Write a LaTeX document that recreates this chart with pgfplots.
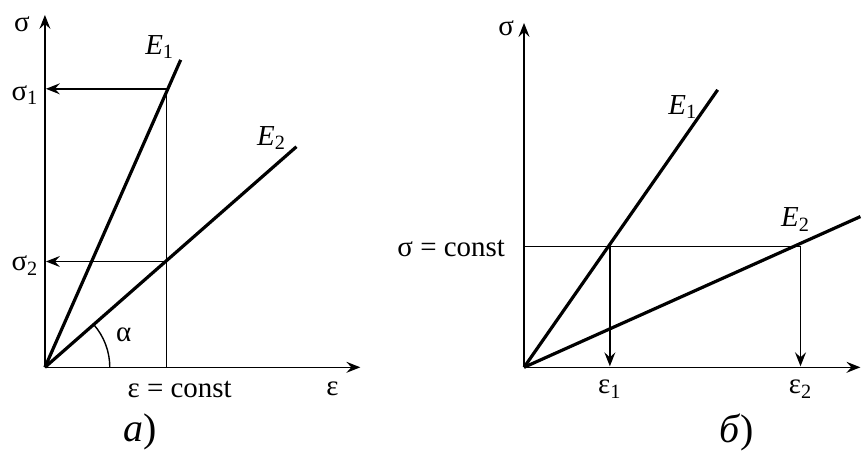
\documentclass[border=0pt]{standalone}
\usepackage{pgfplots}
\pgfplotsset{compat=1.18}
\usepackage{fontspec}
\setmainfont{Liberation Serif}
\usetikzlibrary{arrows.meta}
\tikzset{
  thin line/.style={black, line width=0.7pt},
  arr/.style={thin line, -{Stealth[length=7pt,width=5.5pt,inset=2.5pt]}},
  main/.style={black, line width=1.6pt},
}
\begin{document}
\begin{tikzpicture}[font=\fontsize{14.5}{16}\selectfont]
  \begin{axis}[
      x=0.5pt, y=0.5pt,
      xmin=0, xmax=862, ymin=0, ymax=457,
      hide axis, clip=false,
    ]
    % frame for the bounding box
    \path (axis cs:0,0) rectangle (axis cs:862,457);

    % ---------- panel a) ----------
    \addplot[arr] coordinates {(45,89) (45,442)};
    \addplot[arr] coordinates {(45,89) (361,89)};
    \addplot[main] coordinates {(45,89) (181,397)};   % E1
    \addplot[main] coordinates {(45,89) (297,310)};   % E2
    \addplot[thin line] coordinates {(167,89) (167,368)};
    \addplot[arr] coordinates {(167,368) (46,368)};
    \addplot[arr] coordinates {(167,195) (46,195)};
    \draw[thin line] (axis cs:110,89) arc[start angle=0, end angle=41, radius=32.5pt];

    \node at (axis cs:22,433) {σ};
    \node at (axis cs:25,362) {σ\textsubscript{1}};
    \node at (axis cs:25,191) {σ\textsubscript{2}};
    \node at (axis cs:160,410) {\textit{E}\textsubscript{1}};
    \node at (axis cs:272,319) {\textit{E}\textsubscript{2}};
    \node at (axis cs:124,122) {α};
    \node at (axis cs:180,67) {ε = const};
    \node at (axis cs:333,67) {ε};
    \node[font=\fontsize{20}{22}\selectfont] at (axis cs:140,24) {\textit{а})};

    % ---------- panel b) ----------
    \addplot[arr] coordinates {(525,89) (525,434)};
    \addplot[arr] coordinates {(525,89) (862,89)};
    \addplot[main] coordinates {(525,89) (719,367)};  % E1
    \addplot[main] coordinates {(525,89) (862,240)};  % E2
    \addplot[thin line] coordinates {(525,210) (802,210)};
    \addplot[arr] coordinates {(611,210) (611,90)};
    \addplot[arr] coordinates {(802,210) (802,90)};

    \node at (axis cs:507,429) {σ};
    \node at (axis cs:452,208) {σ = const};
    \node at (axis cs:684,350) {\textit{E}\textsubscript{1}};
    \node at (axis cs:797,237) {\textit{E}\textsubscript{2}};
    \node at (axis cs:611,67) {ε\textsubscript{1}};
    \node at (axis cs:802,67) {ε\textsubscript{2}};
    \node[font=\fontsize{20}{22}\selectfont] at (axis cs:738,24) {\textit{б})};
  \end{axis}
\end{tikzpicture}
\end{document}
